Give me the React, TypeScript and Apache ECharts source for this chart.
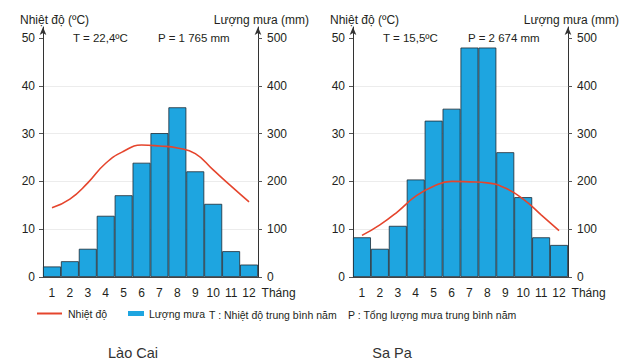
import React, { useEffect, useRef } from "react";
import * as echarts from "echarts";

const months = ["1", "2", "3", "4", "5", "6", "7", "8", "9", "10", "11", "12"];
const laoCaiTemp = [14.5, 16.3, 19.7, 23.8, 26.3, 27.6, 27.4, 27.0, 25.8, 22.4, 19.0, 15.7];
const laoCaiRain = [22, 33, 59, 128, 171, 239, 301, 355, 221, 153, 54, 26];
const saPaTemp = [8.7, 10.9, 13.7, 16.9, 19.0, 20.0, 19.9, 19.7, 18.6, 16.3, 13.0, 9.7];
const saPaRain = [83, 59, 107, 204, 327, 352, 480, 480, 261, 167, 83, 67];
const tempTicks = [0, 10, 20, 30, 40, 50];
const rainTicks = [0, 100, 200, 300, 400, 500];
const stations = ["Lào Cai", "Sa Pa"];
const tLabels = ["T = 22,4ºC", "T = 15,5ºC"];
const pLabels = ["P = 1 765 mm", "P = 2 674 mm"];

const FONT = "'Liberation Sans', Arial, sans-serif";
const TXT = "#231f20";
const BLUE = "#1ea5e0";
const RED = "#e5452d";

export default function App() {
  const ref = useRef<HTMLDivElement>(null);
  useEffect(() => {
    if (!ref.current) return;
    const chart = echarts.init(ref.current, undefined, { renderer: "svg" });
    const gridLefts = [43, 353];
    const gridW = 215;
    const grids = gridLefts.map((l) => ({ left: l, width: gridW, top: 27, bottom: 87 }));

    const xAxes = gridLefts.map((_, i) => ({
      type: "category",
      gridIndex: i,
      data: months,
      boundaryGap: true,
      axisLine: { show: true, lineStyle: { color: "#444", width: 1 } },
      axisTick: { show: false },
      axisLabel: { color: TXT, fontSize: 12, fontFamily: FONT, margin: 10 },
      name: "Tháng",
      nameLocation: "end",
      nameGap: 3,
      nameTextStyle: { color: TXT, fontSize: 12, fontFamily: FONT, verticalAlign: "top", padding: [10, 0, 0, 0] },
      z: 5,
    }));

    const yAxes: any[] = [];
    gridLefts.forEach((_, i) => {
      yAxes.push({
        type: "value",
        gridIndex: i,
        position: "left",
        min: 0,
        max: 52.3,
        interval: 10,
        axisLine: { show: true, symbol: ["none", "arrow"], symbolSize: [5, 8], lineStyle: { color: "#333", width: 1 } },
        axisTick: { show: true, length: 4, customValues: tempTicks, lineStyle: { color: "#555" } },
        axisLabel: {
          customValues: tempTicks,
          color: TXT,
          fontSize: 12,
          fontFamily: FONT,
          margin: 8,
          formatter: (v: number) => (v % 10 === 0 ? String(v) : ""),
        },
        splitLine: { show: true, showMaxLine: false, lineStyle: { color: "#ececec", width: 1 } },
      });
      yAxes.push({
        type: "value",
        gridIndex: i,
        position: "right",
        min: 0,
        max: 523,
        interval: 100,
        axisLine: { show: true, symbol: ["none", "arrow"], symbolSize: [5, 8], lineStyle: { color: "#333", width: 1 } },
        axisTick: { show: true, length: 4, customValues: rainTicks, lineStyle: { color: "#555" } },
        axisLabel: {
          customValues: rainTicks,
          color: TXT,
          fontSize: 12,
          fontFamily: FONT,
          margin: 9,
          formatter: (v: number) => (v % 100 === 0 ? String(v) : ""),
        },
        splitLine: { show: false },
      });
    });

    const temps = [laoCaiTemp, saPaTemp];
    const rains = [laoCaiRain, saPaRain];
    const series: any[] = [];
    gridLefts.forEach((_, i) => {
      series.push({
        type: "bar",
        name: "Lượng mưa",
        xAxisIndex: i,
        yAxisIndex: i * 2 + 1,
        data: rains[i],
        barWidth: "100%",
        barCategoryGap: "0%",
        itemStyle: { color: BLUE, borderColor: "#1d2a33", borderWidth: 0.8 },
        z: 2,
      });
      series.push({
        type: "line",
        name: "Nhiệt độ",
        xAxisIndex: i,
        yAxisIndex: i * 2,
        data: temps[i],
        smooth: true,
        showSymbol: false,
        color: RED,
        lineStyle: { color: RED, width: 1.6 },
        z: 4,
      });
    });

    const txt = (text: string, x: number, y: number, opts: any = {}) => ({
      type: "text",
      x,
      y,
      style: {
        text,
        fill: TXT,
        fontSize: 12,
        fontFamily: FONT,
        textVerticalAlign: "middle",
        ...opts,
      },
    });

    const graphic: any[] = [];
    gridLefts.forEach((l, i) => {
      graphic.push(txt("Nhiệt độ (ºC)", l - 23, 20));
      graphic.push(txt("Lượng mưa (mm)", l + gridW + 51, 20, { textAlign: "right" }));
      graphic.push(txt(tLabels[i], l + 30, 38, { fontSize: 11.5 }));
      graphic.push(txt(pLabels[i], l + 115, 38, { fontSize: 11.5 }));
      graphic.push(txt(stations[i], [133, 392][i], 353, { fontSize: 14.5, textAlign: "center", fill: "#333" }));
    });
    graphic.push(txt("T : Nhiệt độ trung bình năm", 209, 315, { fontSize: 10.5 }));
    graphic.push(txt("P : Tổng lượng mưa trung bình năm", 348, 315, { fontSize: 10.5 }));

    chart.setOption({
      animation: false,
      backgroundColor: "#ffffff",
      textStyle: { fontFamily: FONT },
      grid: grids,
      xAxis: xAxes,
      yAxis: yAxes,
      series,
      legend: [
        {
          data: ["Nhiệt độ"],
          left: 37,
          top: 308,
          icon: "rect",
          itemWidth: 25,
          itemHeight: 2,
          itemGap: 0,
          padding: 0,
          textStyle: { color: TXT, fontSize: 10.5, fontFamily: FONT, padding: [0, 0, 0, 1] },
          selectedMode: false,
        },
        {
          data: ["Lượng mưa"],
          left: 128,
          top: 308,
          icon: "rect",
          itemWidth: 16,
          itemHeight: 5,
          itemGap: 0,
          padding: 0,
          itemStyle: { borderWidth: 0 },
          textStyle: { color: TXT, fontSize: 10.5, fontFamily: FONT },
          selectedMode: false,
        },
      ],
      graphic,
    });
    return () => chart.dispose();
  }, []);
  return (
    <div
      ref={ref}
      style={{ position: "fixed", left: 0, top: 0, width: 630, height: 364, background: "#fff" }}
    />
  );
}
